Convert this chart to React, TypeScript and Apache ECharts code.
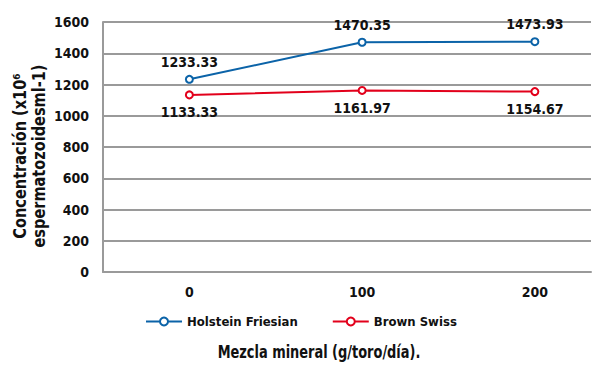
import React, { useEffect, useRef } from "react";
import * as echarts from "echarts";

const xValues = [0, 100, 200];
const xTickLabels = [0, 100, 200];
const holstein = [1233.33, 1470.35, 1473.93];
const brownSwiss = [1133.33, 1161.97, 1154.67];
const seriesNames = ["Holstein Friesian", "Brown Swiss"];

const FONT = "'Liberation Sans Narrow', 'DejaVu Sans Condensed', 'Roboto Condensed', sans-serif";
const BLUE = "#0b63a8";
const RED = "#e2001b";
const GRAY = "#9a9a9a";

export default function App() {
  const ref = useRef<HTMLDivElement>(null);
  useEffect(() => {
    const chart = echarts.init(ref.current!, null, { renderer: "svg" });
    const label = (pos: string) => ({
      show: true,
      position: pos,
      distance: 6,
      fontFamily: FONT,
      fontWeight: "bold",
      fontSize: 14,
      color: "#111",
      formatter: (p: any) => p.value[1].toFixed(2),
    });
    chart.setOption({
      animation: false,
      backgroundColor: "#fff",
      textStyle: { fontFamily: FONT },
      grid: { left: 103, right: 9, top: 22, bottom: 114 },
      legend: {
        bottom: 58,
        left: 145,
        padding: 0,
        itemWidth: 36,
        itemHeight: 10,
        itemGap: 34,
        textStyle: { fontFamily: FONT, fontWeight: "bold", fontSize: 13, color: "#111" },
        data: seriesNames,
      },
      xAxis: {
        type: "value",
        min: -50,
        max: 232.5,
        axisLine: { show: true, onZero: false, lineStyle: { color: GRAY, width: 2 } },
        axisTick: { show: false },
        splitLine: { show: false },
        axisLabel: {
          customValues: xTickLabels,
          fontFamily: FONT,
          fontWeight: "bold",
          fontSize: 14,
          color: "#111",
          margin: 13,
        },
      },
      yAxis: {
        type: "value",
        min: 0,
        max: 1600,
        interval: 200,
        axisLine: { show: true, onZero: false, lineStyle: { color: GRAY, width: 2 } },
        axisTick: { show: false },
        splitLine: { show: true, lineStyle: { color: GRAY, width: 2 } },
        axisLabel: {
          fontFamily: FONT,
          fontWeight: "bold",
          fontSize: 14,
          color: "#111",
          margin: 14,
          formatter: (v: number) => String(v),
        },
      },
      graphic: [
        {
          type: "text",
          x: 20,
          y: 156,
          rotation: Math.PI / 2,
          scaleX: 0.95,
          style: {
            text: "Concentración (x10⁶",
            fontFamily: FONT,
            fontWeight: "bold",
            fontSize: 17,
            fill: "#111",
            align: "center",
            verticalAlign: "middle",
          },
        },
        {
          type: "text",
          x: 39,
          y: 156,
          rotation: Math.PI / 2,
          scaleX: 0.95,
          style: {
            text: "espermatozoidesml-1)",
            fontFamily: FONT,
            fontWeight: "bold",
            fontSize: 17,
            fill: "#111",
            align: "center",
            verticalAlign: "middle",
          },
        },
        {
          type: "text",
          x: 319,
          y: 352,
          scaleX: 0.8,
          style: {
            text: "Mezcla mineral (g/toro/día).",
            fontFamily: FONT,
            fontWeight: "bold",
            fontSize: 18,
            fill: "#111",
            align: "center",
            verticalAlign: "middle",
          },
        },
      ],
      series: [
        {
          name: seriesNames[0],
          type: "line",
          data: xValues.map((x, i) => [x, holstein[i]]),
          symbol: "emptyCircle",
          symbolSize: 7,
          color: BLUE,
          lineStyle: { color: BLUE, width: 2 },
          itemStyle: { color: BLUE, borderWidth: 2 },
          label: label("top"),
        },
        {
          name: seriesNames[1],
          type: "line",
          data: xValues.map((x, i) => [x, brownSwiss[i]]),
          symbol: "emptyCircle",
          symbolSize: 7,
          color: RED,
          lineStyle: { color: RED, width: 2 },
          itemStyle: { color: RED, borderWidth: 2 },
          label: label("bottom"),
        },
      ],
    });
    return () => chart.dispose();
  }, []);
  return <div ref={ref} style={{ width: 600, height: 386, position: "absolute", left: 0, top: 0 }} />;
}
